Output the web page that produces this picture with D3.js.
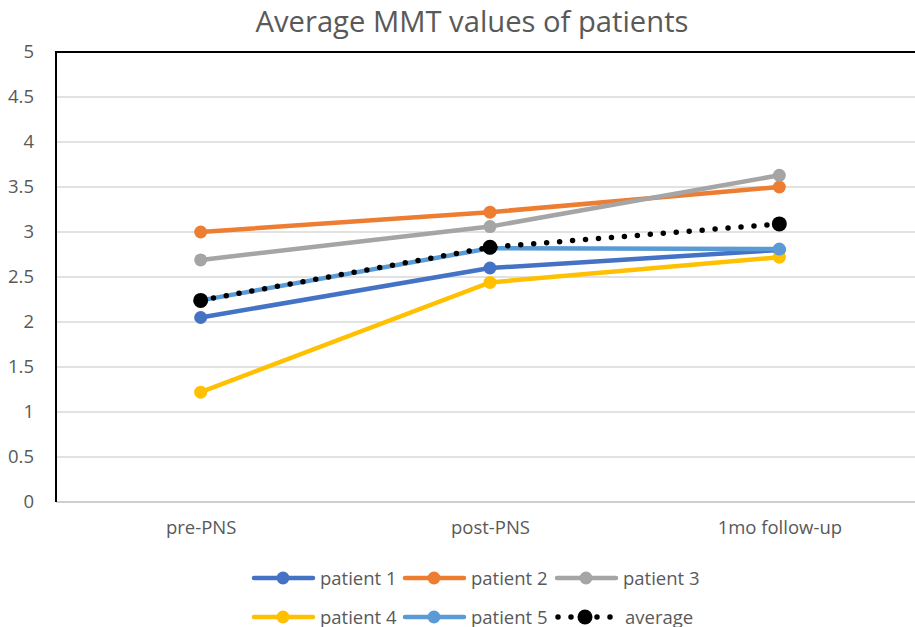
<!DOCTYPE html>
<html>
<head>
<meta charset="utf-8">
<script src="https://cdn.jsdelivr.net/npm/d3@7"></script>
<style>
  body { margin: 0; background: #fff; }
  svg { display: block; font-family: "Open Sans", sans-serif; }
</style>
</head>
<body>
<div id="chart"></div>
<script>

// data
var categories = ["pre-PNS", "post-PNS", "1mo follow-up"];
var patient1 = [2.05, 2.6, 2.8];
var patient2 = [3.0, 3.22, 3.5];
var patient3 = [2.69, 3.06, 3.63];
var patient4 = [1.22, 2.44, 2.72];
var patient5 = [2.24, 2.82, 2.81];
var average = [2.24, 2.83, 3.09];
var yTicks = [0, 0.5, 1, 1.5, 2, 2.5, 3, 3.5, 4, 4.5, 5];

var series = [
	{ name: "patient 1", values: patient1, color: "#4472C4" },
	{ name: "patient 2", values: patient2, color: "#ED7D31" },
	{ name: "patient 3", values: patient3, color: "#A5A5A5" },
	{ name: "patient 4", values: patient4, color: "#FFC000" },
	{ name: "patient 5", values: patient5, color: "#5B9BD5" },
	{ name: "average", values: average, color: "#000000", dotted: true }
];

var W = 915, H = 627;
var plot = { left: 56, right: 924, top: 52, bottom: 502 };
var FONT = 18.5;

var svg = d3.select('#chart').append('svg')
	.attr('width', W)
	.attr('height', H);

var x = d3.scalePoint()
	.domain(categories)
	.range([plot.left, plot.right])
	.padding(0.5);

var y = d3.scaleLinear()
	.domain([0, 5])
	.range([plot.bottom, plot.top]);

//* GRID
svg.append('g')
	.selectAll('line')
	.data(yTicks.filter(function(d){ return d > 0 && d < 5; }))
	.enter().append('line')
	.attr('x1', plot.left)
	.attr('x2', plot.right)
	.attr('y1', function(d){ return y(d); })
	.attr('y2', function(d){ return y(d); })
	.attr('stroke', '#d9d9d9')
	.attr('stroke-width', 1.3);

// bottom axis line
svg.append('line')
	.attr('x1', plot.left).attr('x2', plot.right)
	.attr('y1', y(0)).attr('y2', y(0))
	.attr('stroke', '#bfbfbf')
	.attr('stroke-width', 1.5);

// top border and left border (black)
svg.append('line')
	.attr('x1', plot.left).attr('x2', plot.right)
	.attr('y1', y(5)).attr('y2', y(5))
	.attr('stroke', '#000')
	.attr('stroke-width', 2);

svg.append('line')
	.attr('x1', plot.left).attr('x2', plot.left)
	.attr('y1', y(5) - 1).attr('y2', y(0))
	.attr('stroke', '#000')
	.attr('stroke-width', 2);

//* Y AXIS LABELS
var yAxis = d3.axisLeft(y)
	.tickValues(yTicks)
	.tickSize(0)
	.tickPadding(22)
	.tickFormat(d3.format('~g'));

svg.append('g')
	.attr('transform', 'translate(' + plot.left + ',0)')
	.call(yAxis)
	.call(function(g){ g.select('.domain').remove(); })
	.selectAll('text')
	.attr('font-family', 'Open Sans')
	.attr('font-size', FONT)
	.attr('fill', '#595959');

//* X AXIS LABELS
var xAxis = d3.axisBottom(x).tickSize(0).tickPadding(19);

svg.append('g')
	.attr('transform', 'translate(0,' + plot.bottom + ')')
	.call(xAxis)
	.call(function(g){ g.select('.domain').remove(); })
	.selectAll('text')
	.attr('font-family', 'Open Sans')
	.attr('font-size', FONT)
	.attr('fill', '#595959');

//* TITLE
svg.append('text')
	.attr('x', 472)
	.attr('y', 32)
	.attr('font-family', 'Open Sans')
	.attr('font-size', 29.2)
	.style('text-anchor', 'middle')
	.style('fill', '#595959')
	.text('Average MMT values of patients');

//* SERIES
var line = d3.line()
	.x(function(d, i){ return x(categories[i]); })
	.y(function(d){ return y(d); });

series.forEach(function(s){

	var g = svg.append('g');

	if (s.dotted) {
		g.append('path')
			.attr('d', line(s.values))
			.attr('fill', 'none')
			.attr('stroke', s.color)
			.attr('stroke-width', 5.5)
			.attr('stroke-linecap', 'round')
			.attr('stroke-dasharray', '0 13');
	} else {
		g.append('path')
			.attr('d', line(s.values))
			.attr('fill', 'none')
			.attr('stroke', s.color)
			.attr('stroke-width', 4.5)
			.attr('stroke-linecap', 'round');
	}

	g.selectAll('circle')
		.data(s.values)
		.enter().append('circle')
		.attr('cx', function(d, i){ return x(categories[i]); })
		.attr('cy', function(d){ return y(d); })
		.attr('r', s.dotted ? 7.5 : 6.5)
		.attr('fill', s.color);
});

//* LEGEND
var legendCols = [252, 403, 555];
var legendRows = [578, 617];

series.forEach(function(s, i){

	var lx = legendCols[i % 3];
	var ly = legendRows[Math.floor(i / 3)];
	var g = svg.append('g').attr('transform', 'translate(' + lx + ',' + ly + ')');

	if (s.dotted) {
		g.append('line')
			.attr('x1', 3).attr('x2', 57)
			.attr('y1', 0).attr('y2', 0)
			.attr('stroke', s.color)
			.attr('stroke-width', 5.5)
			.attr('stroke-linecap', 'round')
			.attr('stroke-dasharray', '0 13');
		g.append('circle')
			.attr('cx', 30).attr('cy', 0).attr('r', 7.5)
			.attr('fill', s.color);
	} else {
		g.append('line')
			.attr('x1', 2).attr('x2', 61)
			.attr('y1', 0).attr('y2', 0)
			.attr('stroke', s.color)
			.attr('stroke-width', 4.5)
			.attr('stroke-linecap', 'round');
		g.append('circle')
			.attr('cx', 31).attr('cy', 0).attr('r', 6.5)
			.attr('fill', s.color);
	}

	g.append('text')
		.attr('x', s.dotted ? 70 : 68)
		.attr('y', 6.5)
		.attr('font-family', 'Open Sans')
		.attr('font-size', FONT)
		.style('fill', '#595959')
		.text(s.name);
});

</script>
</body>
</html>
